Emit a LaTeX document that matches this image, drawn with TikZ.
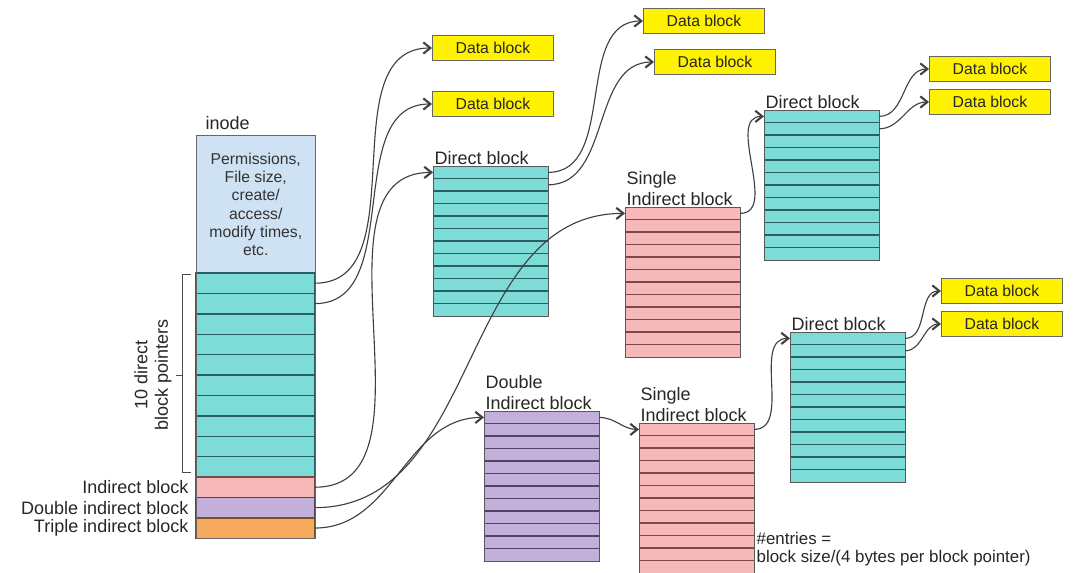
\documentclass[tikz,border=0pt]{standalone}
\usepackage{fontspec}
\setmainfont{Liberation Sans}
\usetikzlibrary{calc,arrows.meta,positioning}
\definecolor{inodeblue}{RGB}{207,226,243}
\definecolor{ptrteal}{RGB}{125,220,216}
\definecolor{ptrpink}{RGB}{246,184,184}
\definecolor{ptrpurple}{RGB}{194,176,218}
\definecolor{ptrorange}{RGB}{246,170,92}
\definecolor{tealline}{RGB}{40,95,95}
\definecolor{pinkline}{RGB}{125,72,72}
\definecolor{purpleline}{RGB}{82,66,102}
\definecolor{orangeline}{RGB}{120,80,40}
\def\rowblock(#1)(#2)[#3][#4]{%
	\node[blk, fill=#3] (#1) at (#2) {};
	\foreach \k in {1,...,11}
		\draw[line width=1.1pt, color=#4] ($(#1.north west)!\k/12!(#1.south west)$) -- ($(#1.north east)!\k/12!(#1.south east)$);
	\draw[line width=0.6pt, color=black!65] (#1.north west) rectangle (#1.south east);
}

\begin{document}
\begin{tikzpicture}[x=0.025cm, y=-0.025cm,
	blk/.style={minimum width=2.875cm, minimum height=3.75cm, anchor=north west, inner sep=0pt, outer sep=0pt},
	slot/.style={minimum width=2.975cm, minimum height=0.51cm, anchor=north west, inner sep=0pt, outer sep=0pt, line width=1pt},
	data/.style={fill=yellow, draw=black!60, line width=0.6pt, minimum width=3.025cm, minimum height=0.625cm, anchor=west, inner sep=0pt, font=\fontsize{11.2}{13}\selectfont, text=black!85},
	lbl/.style={font=\fontsize{12.8}{14.5}\selectfont, text=black!85, inner sep=1pt, align=left},
	link/.style={draw=black!75, line width=0.8pt, -{Straight Barb[length=5pt,width=8pt,line width=1.5pt]}}]
		%%%%% START %%%%%
		\useasboundingbox (0,0) rectangle (1076,572);
		
		% inode
		\node[draw=black!60, fill=inodeblue, minimum width=2.975cm, minimum height=3.45cm, anchor=north west, inner sep=0pt, align=center, font=\fontsize{11.2}{13}\selectfont, text=black!80] (info) at (196,135) {Permissions,\\File size,\\create/\\access/\\modify times,\\etc.};
		\node[lbl, above right=0.08cm and 0.2cm of info.north west] (linode) {inode};
		\foreach \i in {1,...,10}
			\node[slot, fill=ptrteal, draw=tealline] (p\i) at (196, {273+20.4*(\i-1)}) {};
		\node[slot, fill=ptrpink, draw=pinkline, below=0pt of p10] (ind) {};
		\node[slot, fill=ptrpurple, draw=purpleline, below=0pt of ind] (dind) {};
		\node[slot, fill=ptrorange, draw=orangeline, below=0pt of dind] (tind) {};
		\draw[line width=0.6pt, color=black!60] (info.north west) rectangle (tind.south east);
		
		\node[lbl, left=0.15cm of ind] (lind) {Indirect block};
		\node[lbl, left=0.15cm of dind] (ldind) {Double indirect block};
		\node[lbl, left=0.15cm of tind] (ltind) {Triple indirect block};
		
		\draw[line width=0.6pt, color=black!70] (191,274) -- (182,274) -- (182,472) -- (191,472) (182,375) -- (176,375);
		\node[lbl, rotate=90, align=center] (ldir) at (153,375) {10 direct\\block pointers};
		
		% pointer blocks
		\rowblock(dA)(433,166)[ptrteal][tealline]
		\rowblock(sA)(625,207)[ptrpink][pinkline]
		\rowblock(dB)(764,110)[ptrteal][tealline]
		\rowblock(dd)(484,411)[ptrpurple][purpleline]
		\rowblock(sB)(639,423)[ptrpink][pinkline]
		\rowblock(dC)(790,332)[ptrteal][tealline]
		
		\node[lbl, anchor=south west] (ldA) at (dA.north west) {Direct block};
		\node[lbl, anchor=south west] (lsA) at (sA.north west) {Single\\Indirect block};
		\node[lbl, anchor=south west] (ldB) at (dB.north west) {Direct block};
		\node[lbl, anchor=south west] (ldd) at (dd.north west) {Double\\Indirect block};
		\node[lbl, anchor=south west] (lsB) at (sB.north west) {Single\\Indirect block};
		\node[lbl, anchor=south west] (ldC) at (dC.north west) {Direct block};
		
		% data blocks
		\node[data] (da1) at (432,48) {Data block};
		\node[data] (da2) at (432,104) {Data block};
		\node[data] (da3) at (643,21) {Data block};
		\node[data] (da4) at (654,62) {Data block};
		\node[data] (da5) at (929,69) {Data block};
		\node[data] (da6) at (929,102) {Data block};
		\node[data] (da7) at (941,291) {Data block};
		\node[data] (da8) at (941,324) {Data block};
		
		% pointers
		\draw[link] (p1.east) to[out=0, in=180] (da1.west);
		\draw[link] (p2.east) to[out=0, in=180] (da2.west);
		\draw[link] (ind.east) to[out=0, in=180] ([yshift=-0.16cm]dA.north west);
		\draw[link] (dind.east) to[out=0, in=180] ([yshift=-0.16cm]sA.north west);
		\draw[link] (tind.east) to[out=0, in=180] ([yshift=-0.16cm]dd.north west);
		
		\draw[link] ([yshift=-0.16cm]dA.north east) to[out=0, in=180] (da3.west);
		\draw[link] ([yshift=-0.47cm]dA.north east) to[out=0, in=180] (da4.west);
		\draw[link] ([yshift=-0.16cm]sA.north east) to[out=0, in=180] ([yshift=-0.16cm]dB.north west);
		\draw[link] ([yshift=-0.16cm]dB.north east) to[out=0, in=180] (da5.west);
		\draw[link] ([yshift=-0.47cm]dB.north east) to[out=0, in=180] (da6.west);
		
		\draw[link] ([yshift=-0.16cm]dd.north east) to[out=0, in=180] ([yshift=-0.16cm]sB.north west);
		\draw[link] ([yshift=-0.16cm]sB.north east) to[out=0, in=180] ([yshift=-0.16cm]dC.north west);
		\draw[link] ([yshift=-0.16cm]dC.north east) to[out=0, in=180] (da7.west);
		\draw[link] ([yshift=-0.47cm]dC.north east) to[out=0, in=180] (da8.west);
		
		\node[lbl, font=\fontsize{12}{12.8}\selectfont, anchor=north west] (note) at (755,531) {\#entries =\\block size/(4 bytes per block pointer)};
		
		%%%%% END %%%%%
\end{tikzpicture}
\end{document}
